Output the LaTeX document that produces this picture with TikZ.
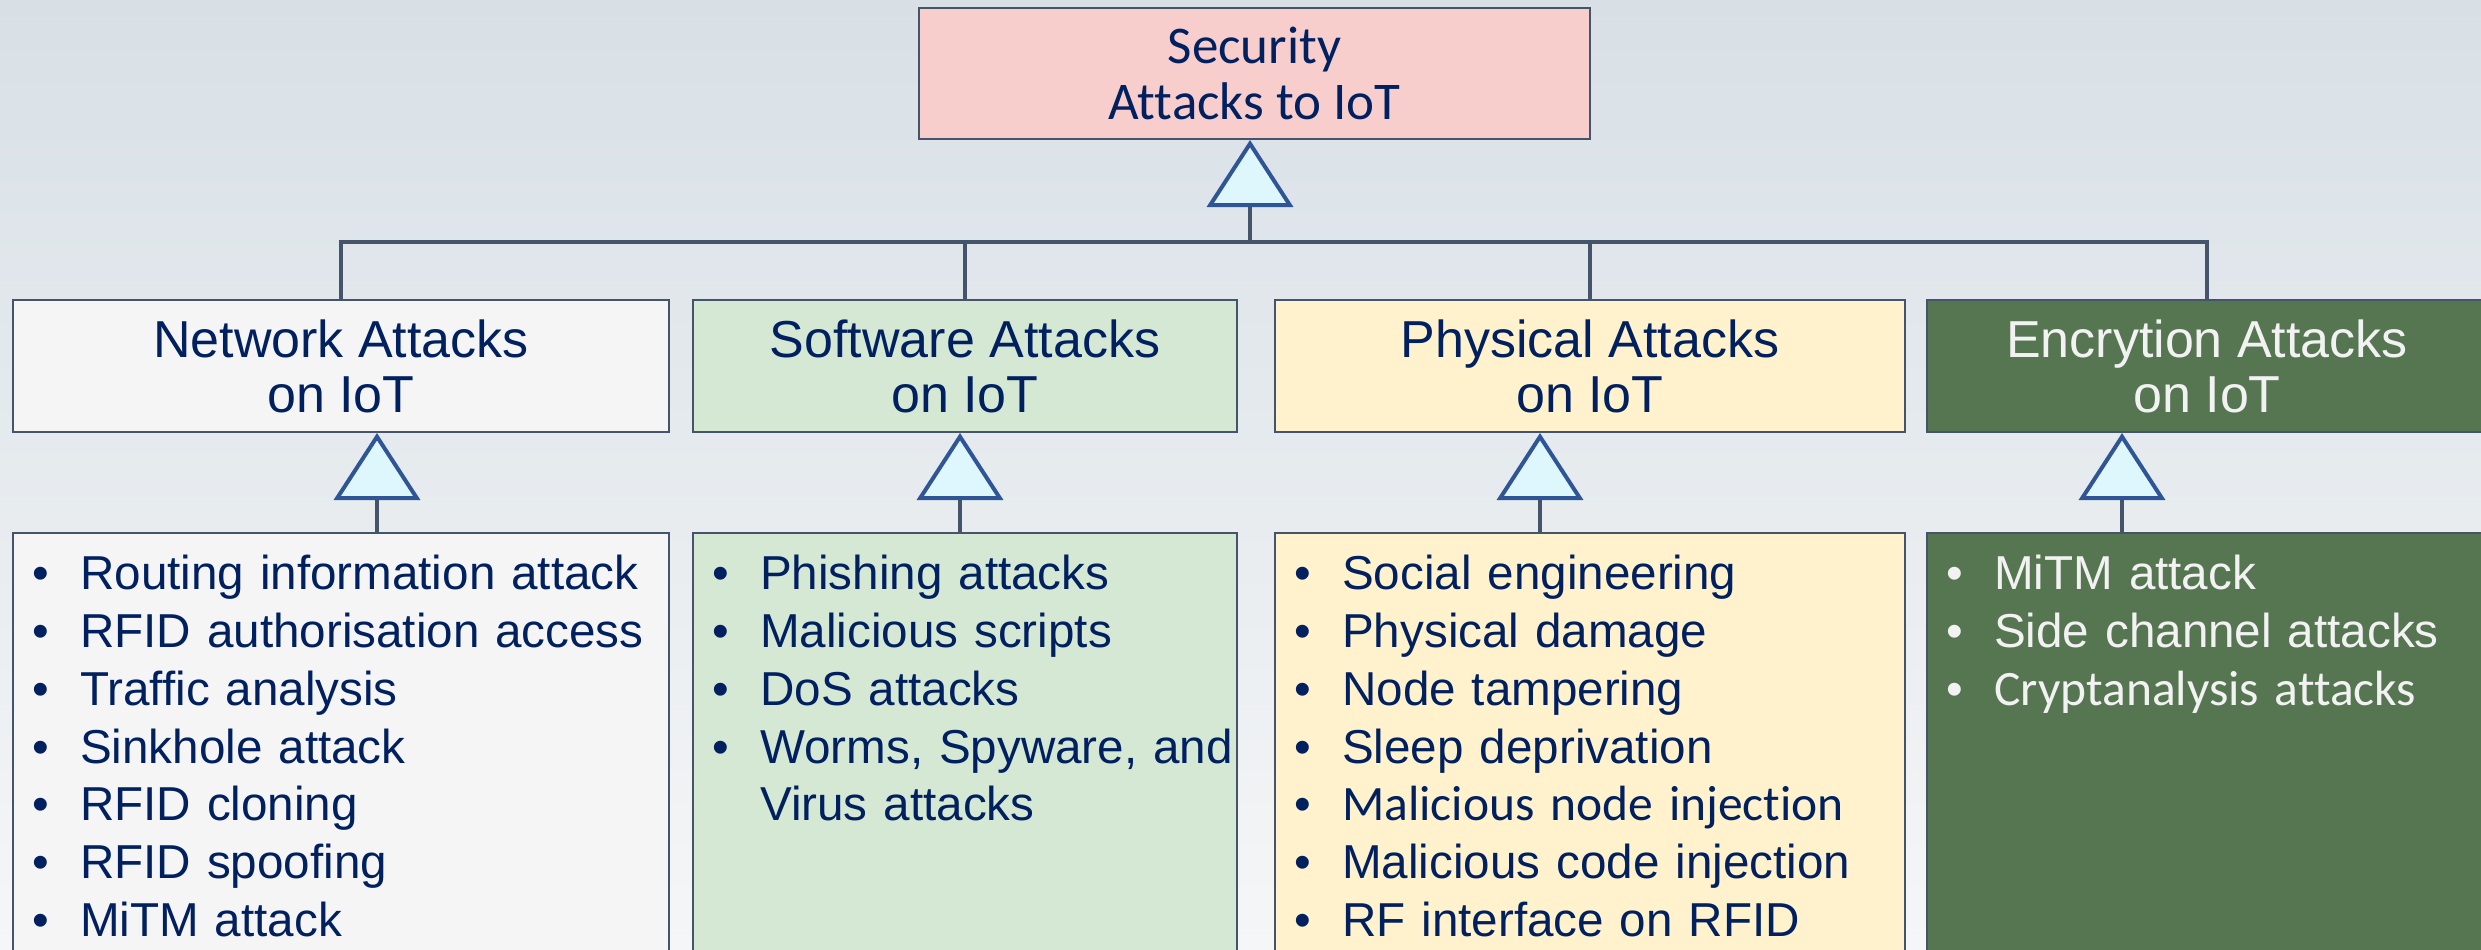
\documentclass[tikz,border=0pt]{standalone}
\usepackage{fontspec}
\setmainfont{Liberation Sans}
\newfontfamily\calibri[Ligatures=NoCommon]{Carlito}
\usepackage{xcolor}
\usetikzlibrary{arrows.meta, positioning}

\definecolor{navy}{HTML}{002060}
\definecolor{edge}{HTML}{44546A}
\definecolor{triblue}{HTML}{2F5597}
\definecolor{tricyan}{HTML}{DDF7FC}
\definecolor{secpink}{HTML}{F8CECC}
\definecolor{netgray}{HTML}{F5F5F5}
\definecolor{swgreen}{HTML}{D5E8D4}
\definecolor{phyyellow}{HTML}{FFF2CC}
\definecolor{encgreen}{HTML}{567652}
\definecolor{encwhite}{HTML}{F2F2F2}
\definecolor{bgtop}{HTML}{D8E0E6}
\definecolor{bgmid}{HTML}{E9ECEE}
\definecolor{bgbot}{HTML}{F5F6F7}

\newcommand{\bul}[1]{\par\noindent\hbox to 68pt{\hskip 20pt\textbullet\hfil}#1}
\newcommand{\cont}[1]{\par\noindent\hskip 68pt #1}
\newcommand{\cali}[1]{{\calibri\fontsize{49.5}{57.7}\selectfont #1}}

\begin{document}
\begin{tikzpicture}[x=1pt, y=1pt,
	box/.style = {draw=edge, line width=2pt, inner sep=0pt},
	head/.style = {box, minimum height=132pt, align=center, text=navy, font=\fontsize{52}{55}\selectfont},
	list/.style = {box, minimum height=442pt},
	items/.style = {inner sep=0pt, text=navy, font=\fontsize{47.6}{57.7}\selectfont},
	wire/.style = {draw=edge, line width=4pt},
	gen/.style = {wire, -{Triangle[width=86pt, length=67pt, color=triblue, fill=tricyan, line width=4pt]}}]
	\useasboundingbox (0,0) rectangle (2481,-950);
	\clip (0,0) rectangle (2481,-950);
	\shade[top color=bgtop, middle color=bgmid, bottom color=bgbot] (0,0) rectangle (2481,-950);

	\node[box, fill=secpink, minimum width=671pt, minimum height=131pt, align=center, text=navy, font=\calibri\fontsize{53}{56}\selectfont] (sec) at (1254.5,-73.5) {Security\\Attacks to IoT};

	\node[head, fill=netgray, minimum width=656pt] (net) at (341,-366) {Network Attacks\\on IoT};
	\node[head, fill=swgreen, minimum width=544pt] (sw) at (965,-366) {Software Attacks\\on IoT};
	\node[head, fill=phyyellow, minimum width=630pt] (phy) at (1590,-366) {Physical Attacks\\on IoT};
	\node[head, fill=encgreen, minimum width=560pt, text=encwhite] (enc) at (2207,-366) {Encrytion Attacks\\on IoT};

	\node[list, fill=netgray, minimum width=656pt] (netlist) at (341,-754) {};
	\node[list, fill=swgreen, minimum width=544pt] (swlist) at (965,-754) {};
	\node[list, fill=phyyellow, minimum width=630pt] (phylist) at (1590,-754) {};
	\node[list, fill=encgreen, minimum width=560pt] (enclist) at (2207,-754) {};

	\node[items, text width=652pt, below right=0pt and 0pt of netlist.north west] (netitems) {\bul{Routing information attack}\bul{RFID authorisation access}\bul{Traffic analysis}\bul{Sinkhole attack}\bul{RFID cloning}\bul{RFID spoofing}\bul{MiTM attack}};
	\node[items, text width=600pt, below right=0pt and 0pt of swlist.north west] (switems) {\bul{Phishing attacks}\bul{Malicious scripts}\bul{DoS attacks}\bul{Worms, Spyware, and}\cont{Virus attacks}};
	\node[items, text width=626pt, below right=0pt and 0pt of phylist.north west] (phyitems) {\bul{Social engineering}\bul{Physical damage}\bul{Node tampering}\bul{Sleep deprivation}\bul{\cali{Malicious node injection}}\bul{Malicious code injection}\bul{RF interface on RFID}};
	\node[items, text width=556pt, text=encwhite, below right=0pt and 0pt of enclist.north west] (encitems) {\bul{MiTM attack}\bul{Side channel attacks}\bul{\cali{Cryptanalysis attacks}}};

	\coordinate (bus) at (1250,-242);
	\draw[gen] (bus) -- (sec.south -| bus);
	\draw[wire] (net.north) -- (net.north |- bus) -- (enc.north |- bus) -- (enc.north);
	\draw[wire] (sw.north) -- (sw.north |- bus);
	\draw[wire] (phy.north) -- (phy.north |- bus);

	\draw[gen] ([xshift=36pt]netlist.north) -- ([xshift=36pt]net.south);
	\draw[gen] ([xshift=-5pt]swlist.north) -- ([xshift=-5pt]sw.south);
	\draw[gen] ([xshift=-50pt]phylist.north) -- ([xshift=-50pt]phy.south);
	\draw[gen] ([xshift=-85pt]enclist.north) -- ([xshift=-85pt]enc.south);
\end{tikzpicture}
\end{document}
